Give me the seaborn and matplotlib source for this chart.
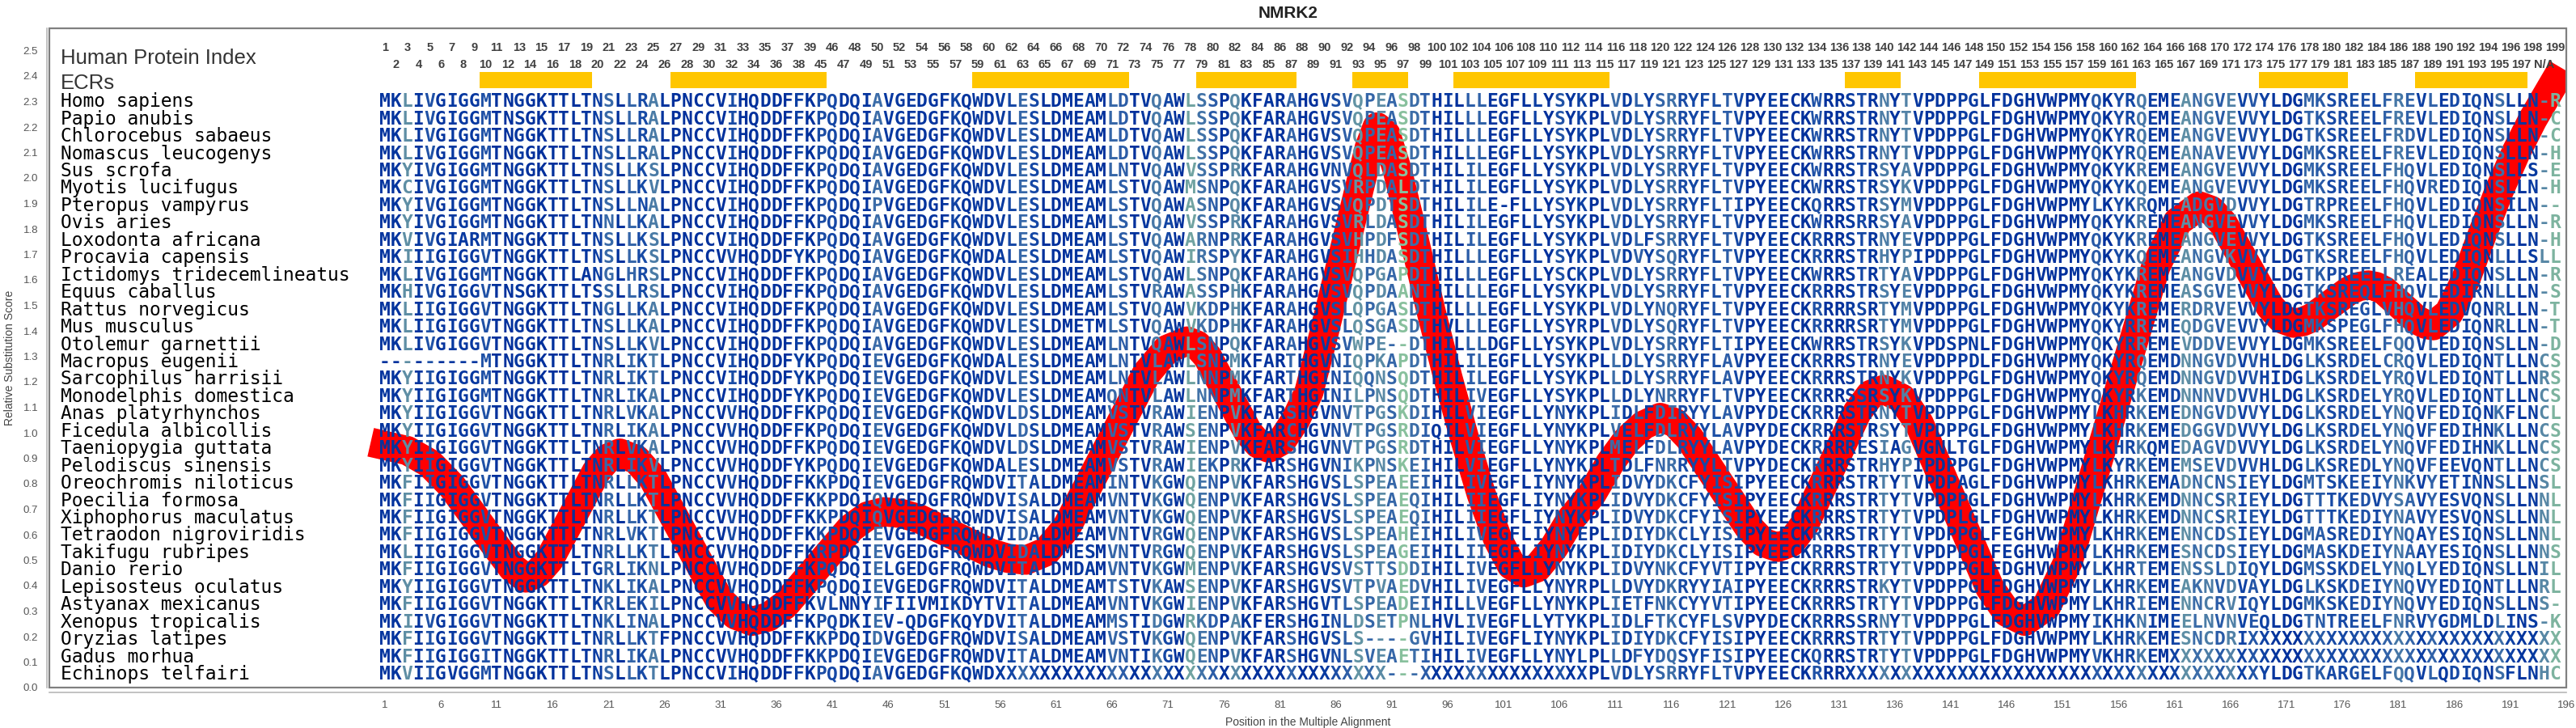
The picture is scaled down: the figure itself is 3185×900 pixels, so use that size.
import numpy as np
import matplotlib.pyplot as plt
import seaborn as sns
from collections import Counter
from matplotlib import font_manager
from matplotlib.colors import LinearSegmentedColormap
from matplotlib.patches import Rectangle

# ── Data ───────────────────────────────────────────────────────────────────────
species = [
    'Homo sapiens', 'Papio anubis', 'Chlorocebus sabaeus', 'Nomascus leucogenys',
    'Sus scrofa', 'Myotis lucifugus', 'Pteropus vampyrus', 'Ovis aries',
    'Loxodonta africana', 'Procavia capensis', 'Ictidomys tridecemlineatus',
    'Equus caballus', 'Rattus norvegicus', 'Mus musculus', 'Otolemur garnettii',
    'Macropus eugenii', 'Sarcophilus harrisii', 'Monodelphis domestica',
    'Anas platyrhynchos', 'Ficedula albicollis', 'Taeniopygia guttata',
    'Pelodiscus sinensis', 'Oreochromis niloticus', 'Poecilia formosa',
    'Xiphophorus maculatus', 'Tetraodon nigroviridis', 'Takifugu rubripes',
    'Danio rerio', 'Lepisosteus oculatus', 'Astyanax mexicanus',
    'Xenopus tropicalis', 'Oryzias latipes', 'Gadus morhua', 'Echinops telfairi',
]

# alignment columns 1-65
seq_a = [
    'MKLIVGIGGMTNGGKTTLTNSLLRALPNCCVIHQDDFFKPQDQIAVGEDGFKQWDVLESLDMEAM',
    'MKLIVGIGGMTNSGKTTLTNSLLRALPNCCVIHQDDFFKPQDQIAVGEDGFKQWDVLESLDMEAM',
    'MKLIVGIGGMTNGGKTTLTNSLLRALPNCCVIHQDDFFKPQDQIAVGEDGFKQWDVLESLDMEAM',
    'MKLIVGIGGMTNGGKTTLTNSLLRALPNCCVIHQDDFFKPQDQIAVGEDGFKQWDVLESLDMEAM',
    'MKYIVGIGGMTNGGKTTLTNSLLKSLPNCCVIHQDDFFKPQDQIAVGEDGFKQWDVLESLDMEAM',
    'MKCIVGIGGMTNGGKTTLTNSLLKVLPNCCVIHQDDFFKPQDQIAVGEDGFKQWDVLESLDMEAM',
    'MKYIVGIGGMTNGGKTTLTNSLLNALPNCCVIHQDDFFKPQDQIPVGEDGFKQWDVLESLDMEAM',
    'MKYIVGIGGMTNGGKTTLTNNLLKALPNCCVIHQDDFFKPQDQIAVGEDGFKQWDVLESLDMEAM',
    'MKVIVGIARMTNGGKTTLTNSLLKSLPNCCVIHQDDFFKPQDQIAVGEDGFKQWDVLESLDMEAM',
    'MKIIIGIGGVTNGGKTTLTNSLLKSLPNCCVVHQDDFYKPQDQIAVGEDGFKQWDALESLDMEAM',
    'MKLIVGIGGMTNGGKTTLANGLHRSLPNCCVIHQDDFFKPQDQIAVGEDGFKQWDVLESLDMEAM',
    'MKHIVGIGGVTNSGKTTLTSSLLRSLPNCCVIHQDDFFKPQDQIAVGEDGFKQWDVLESLDMEAM',
    'MKLIIGIGGVTNGGKTTLTNGLLKALPNCCVIHQDDFFKPQDQIAVGEDGFKQWDVLESLDMEAM',
    'MKLIIGIGGVTNGGKTTLTNSLLKALPNCCVIHQDDFFKPQDQIAVGEDGFKQWDVLESLDMETM',
    'MKLIVGIGGVTNGGKTTLTNSLLKVLPNCCVIHQDDFFKPQDQIAVGEDGFKQWDVLESLDMEAM',
    '---------MTNGGKTTLTNRLIKTLPNCCVIHQDDFYKPQDQIEVGEDGFKQWDALESLDMEAM',
    'MKYIIGIGGMTNGGKTTLTNRLIKTLPNCCVIHQDDFYKPQDQIEVGEDGFKQWDVLESLDMEAM',
    'MKYIIGIGGMTNGGKTTLTNRLIKALPNCCVIHQDDFYKPQDQIEVGEDGFKQWDVLESLDMEAM',
    'MKYIIGIGGVTNGGKTTLTNRLVKALPNCCVVHQDDFFKPQDQIEVGEDGFKQWDVLDSLDMEAM',
    'MKYIIGIGGVTNGGKTTLTNRLIKALPNCCVVHQDDFFKPQDQIEVGEDGFKQWDVLDSLDMEAM',
    'MKYIIGIGGVTNGGKTTLTNRLVKALPNCCVVHQDDFFKPQDQIEVGEDGFKQWDVLDSLDMEAM',
    'MKYIIGIGGVTNGGKTTLTNRLIKVLPNCCVVHQDDFYKPQDQIEVGEDGFKQWDALESLDMEAM',
    'MKFIIGIGGVTNGGKTTLTNRLLKTLPNCCVVHQDDFFKKPDQIEVGEDGFRQWDVITALDMEAM',
    'MKFIIGIGGVTNGGKTTLTNRLLKTLPNCCVVHQDDFFKKPDQIQVGEDGFRQWDVISALDMEAM',
    'MKFIIGIGGVTNGGKTTLTNRLLKTLPNCCVVHQDDFFKKPDQIQVGEDGFRQWDVISALDMEAM',
    'MKFIIGIGGVTNGGKTTLTNRLVKTLPNCCVVHQDDFFKKPDQIEVGEDGFRQWDVIDALDMEAM',
    'MKLIIGIGGVTNGGKTTLTNRLLKTLPNCCVVHQDDFFKRPDQIEVGEDGFRQWDVIDALDMESM',
    'MKFIIGIGGVTNGGKTTLTGRLIKNLPNCCVVHQDDFFKPQDQIELGEDGFRQWDVITALDMDAM',
    'MKYIIGIGGVTNGGKTTLTNKLIKALPNCCVVHQDDFFKPQDQIEVGEDGFRQWDVITALDMEAM',
    'MKFIIGIGGVTNGGKTTLTKRLEKILPNCCVVHQDDFFKVLNNYIFIIVMIKDYTVITALDMEAM',
    'MKIIVGIGGVTNGGKTTLTNKLINALPNCCVVHQDDFFKPQDKIEV-QDGFKQYDVITALDMEAM',
    'MKFIIGIGGVTNGGKTTLTNRLLKTFPNCCVVHQDDFFKKPDQIDVGEDGFRQWDVISALDMEAM',
    'MKFIIGIGGITNGGKTTLTNRLIKALPNCCVVHQDDFFKKPDQIEVGEDGFRQWDVITALDMEAM',
    'MKVIIGVGGMTNGGKTTLTNSLLKTLPNCCVIHQDDFFKPQDQIAVGEDGFKQWD' + 'X' * 10,
]

# alignment columns 65-130
seq_b = [
    'MLDTVQAWLSSPQKFARAHGVSVQPEASDTHILLLEGFLLYSYKPLVDLYSRRYFLTVPYEECKWR',
    'MLDTVQAWLSSPQKFARAHGVSVQPEASDTHILLLEGFLLYSYKPLVDLYSRRYFLTVPYEECKWR',
    'MLDTVQAWLSSPQKFARAHGVSVQPEASDTHILLLEGFLLYSYKPLVDLYSRRYFLTVPYEECKWR',
    'MLDTVQAWLSSPQKFARAHGVSVQPEASDTHILLLEGFLLYSYKPLVDLYSRRYFLTVPYEECKWR',
    'MLNTVQAWVSSPRKFARAHGVNVQLDASDTHILILEGFLLYSYKPLVDLYSRRYFLTVPYEECKWR',
    'MLSTVQAWMSNPQKFARAHGVSVRPDALDTHILILEGFLLYSYKPLVDLYSRRYFLTVPYEECKWR',
    'MLSTVQAWASNPQKFARAHGVSVQPDTSDTHILILE-FLLYSYKPLVDLYSRRYFLTIPYEECKQR',
    'MLSTVQAWVSSPRKFARAHGVSVRLDASDTHILILEGFLLYSYKPLVDLYSRRYFLTVPYEECKWR',
    'MLSTVQAWARNPRKFARAHGVSVHPDFSDTHILILEGFLLYSYKPLVDLFSRRYFLTVPYEECKRR',
    'MLSTVQAWIRSPYKFARAHGVSIHHDASDTHILLLEGFLLYSYKPLVDVYSQRYFLTVPYEECKRR',
    'MLSTVQAWLSNPQKFARAHGVSVQPGAPDTHILLLEGFLLYSCKPLVDLYSRRYFLTVPYEECKWR',
    'MLSTVRAWASSPHKFARAHGVSVQPDAANTHILLLEGFLLYSYKPLVDLYSRRYFLTVPYEECKRR',
    'MLSTVQAWVKDPHKFARAHGVSLQPGASDTHILLLEGFLLYSYKPLVDLYNQRYFLTVPYEECKRR',
    'MLSTVQAWVKDPHKFARAHGVSLQSGASDTHVLLLEGFLLYSYRPLVDLYSQRYFLTVPYEECKRR',
    'MLNTVQAWLSNPQKFARAHGVSVWPE--DTHILLLDGFLLYSYKPLVDLYSRRYFLTIPYEECKWR',
    'MLNTVLAWLSNPMKFARTHGVNIQPKAPDTHILILEGFLLYSYKPLLDLYSRRYFLAVPYEECKRR',
    'MLNTVLAWLNNPMKFARTHGINIQQNSQDTHILILEGFLLYSYKPLLDLYSRRYFLAVPYEECKRR',
    'MQNTVLAWLNNPMKFARTHGINILPNSQDTHILIVEGFLLYSYKPLLDLYNRRYFLTVPYEECKRR',
    'MVSTVRAWIENPVKFARSHGVNVTPGSKDIHILVIEGFLLYNYKPLIDLFDIRYYLAVPYDECKRR',
    'MVSTVRAWSENPVKFARCHGVNVTPGSRDIQILVIEGFLLYNYKPLVELFDLRYYLAVPYDECKRR',
    'MVSTVRAWIENPVKFARSHGVNVTPGSRDTHILVIEGFLLYNYKPLMELFDLRYYLAVPYDECKRR',
    'MVSTVRAWIEKPRKFARSHGVNIKPNSKEIHILVIEGFLLYNYKPLTDLFNRRYYLTVPYDECKRR',
    'MINTVKGWQENPVKFARSHGVSLSPEAEEIHILIVEGFLIYNYKPLIDVYDKCFYISIPYEECKRR',
    'MVNTVKGWQENPVKFARSHGVSLSPEAEQIHILIIEGFLIYNYKPLIDVYDKCFYISIPYEECKRR',
    'MVNTVKGWQENPVKFARSHGVSLSPEAEQIHILIIEGFLIYNYKPLIDVYDKCFYISIPYEECKRR',
    'MVNTVRGWQENPVKFARSHGVSLSPEAHEIHILIVEGFLIYNYEPLIDIYDKCLYISIPYEECKRR',
    'MVNTVRGWQENPVKFARSHGVSLSPEAGEIHILIIEGFLIYNYKPLIDIYDKCLYISIPYEECKRR',
    'MVNTVKGWMENPVKFARSHGVSVSTTSDDIHILIVEGFLLYNYKPLIDVYNKCFYVTIPYEECKRR',
    'MTSTVKAWSENPVKFARSHGVSVTPVAEDVHILIVEGFLLYNYRPLLDVYDKRYYIAIPYEECKRR',
    'MVNTVKGWIENPVKFARSHGVTLSPEADEIHILLVEGFLLYNYKPLIETFNKCYYVTIPYEECKRR',
    'MMSTIDGWRKDPAKFERSHGINLDSETPNLHVLIVEGFLLYTYKPLIDLFTKCYFLSVPYDECKRR',
    'MVSTVKGWQENPVKFARSHGVSLS----GVHILIVEGFLIYNYKPLIDIYDKCFYISIPYEECKRR',
    'MVNTIKGWQENPVKFARSHGVNLSVEAETIHILIVEGFLLYNYLPLLDFYDQSYFISIPYEECKQR',
    'X' * 26 + '---' + 'X' * 15 + 'PLVDLYSRRYFLTVPYEECKRR',
]

# alignment columns 130-195
seq_c = [
    'RRSTRNYTVPDPPGLFDGHVWPMYQKYRQEMEANGVEVVYLDGMKSREELFREVLEDIQNSLLN-R',
    'RRSTRNYTVPDPPGLFDGHVWPMYQKYRQEMEANGVEVVYLDGTKSREELFREVLEDIQNSLLN-C',
    'RRSTRNYTVPDPPGLFDGHVWPMYQKYRQEMEANGVEVVYLDGTKSREELFRDVLEDIQNSLLN-C',
    'RRSTRNYTVPDPPGLFDGHVWPMYQKYRQEMEANAVEVVYLDGMKSREELFREVLEDIQNSLLN-H',
    'RRSTRSYAVPDPPGLFDGHVWPMYQKYKREMEANGVEVVYLDGMKSREELFHQVLEDIQNSLLS-E',
    'RRSTRSYKVPDPPGLFDGHVWPMYQKYKQEMEANGVEVVYLDGMKSREELFHQVREDIQNSLLN-H',
    'RRSTRSYMVPDPPGLFDGHVWPMYLKYKRQMEADGVDVVYLDGTRPREELFHQVLEDIQNSILN--',
    'RRSRRSYAVPDPPGLFDGHVWPMYQKYKREMEANGVEVVYLDGMKSREELFHQVLEDIQNSLLN-R',
    'RRSTRNYEVPDPPGLFDGHVWPMYQKYKREMEANGVEVVYLDGTKSREELFHQVLEDIQNSLLN-H',
    'RRSTRHYPIPDPPGLFDGHVWPMYQKYKQEMEANGVKVVYLDGTKSREELFHQVLEDIQNLLLSLL',
    'RRSTRTYAVPDPPGLFDGHVWPMYQKYKREMEANGVDVVYLDGTKPREELLREALEDIQNSLLN-R',
    'RRSTRSYEVPDPPGLFDGHVWPMYQKYKREMEASGVEVVYLDGTKSREQLFHQVLEDIRNLLLN-S',
    'RRRSRTYMVPDPPGLFDGHVWPMYQKYKREMERDRVEVVYLDGTKSREGLVHQVLEDVQNRLLN-T',
    'RRRSRTYMVPDPPGLFDGHVWPMYQKYRREMEQDGVEVVYLDGMKSPEGLFHQVLEDIQNRLLN-T',
    'RRSTRSYKVPDSPNLFDGHVWPMYQKYRREMEVDDVEVVYLDGMKSREELFQQVLEDIQNSLLN-D',
    'RRSTRNYEVPDPPDLFDGHVWPMYQKYRQEMDNNGVDVVHLDGLKSRDELCRQVLEDIQNTLLNCS',
    'RRSTRNYKVPDPPGLFDGHVWPMYQKYRQEMDNNGVDVVHIDGLKSRDELYRQVLEDIQNTLLNRS',
    'RRSSRSYKVPDPPGLFDGHVWPMYQKYRKEMDNNNVDVVHLDGLKSRDELYRQVLEDIQNTLLNCS',
    'RRSTRNYTVPDPPGLFDGHVWPMYLKHRKEMEDNGVDVVYLDGLKSRDELYNQVFEDIQNKFLNCL',
    'RRSTRSYTVPDPPGLFDGHVWPMYLKHRKEMEDGGVDVVYLDGLKSRDELYNQVFEDIHNKLLNCS',
    'RRRESIAGVGNLTGLFDGHVWPMYLKHRKQMEDAGVDVVYLDGLKSRDELYNQVFEDIHNKLLNCS',
    'RRSTRHYPIPDPPGLFDGHVWPMYLKYRKEMEMSEVDVVHLDGLKSREDLYNQVFEEVQNTLLNCS',
    'RRSTRTYTVPDPAGLFDGHVWPMYLKHRKEMADNCNSIEYLDGMTSKEEIYNKVYETINNSLLNSL',
    'RRSTRTYTVPDPPGLFDGHVWPMYLKHRKEMDNNCSRIEYLDGTTTKEDVYSAVYESVQNSLLNNL',
    'RRSTRTYTVPDPLGLFDGHVWPMYLKHRKEMDNNCSRIEYLDGTTTKEDIYNAVYESVQNSLLNNL',
    'RRSTRTYTVPDPPGLFEGHVWPMYLKHRKEMENNCDSIEYLDGMASREDIYNQAYESIQNSLLNNL',
    'RRSTRTYTVPDPPGLFEGHVWPMYLKHRKEMESNCDSIEYLDGMASKDEIYNAAYESIQNSLLNNS',
    'RRSTRTYTVPDPPGLFDGHVWPMYLKHRTEMENSSLDIQYLDGMSSKDELYNQLYEDIQNSLLNIL',
    'RRSTRKYTVPDPPGLFDGHVWPMYLKHRKEMEAKNVDVAYLDGLKSKDEIYNQVYEDIQNTLLNRL',
    'RRSTRTYTVPDPPGLFDGHVWPMYLKHRIEMENNCRVIQYLDGMKSKEDIYNQVYEDIQNSLLNS-',
    'RRSSRNYTVPDPPGLFDGHVWPMYIKHKNIMEELNVNVEQLDGTNTREELFNRVYGDMLDLINS-K',
    'RRSTRTYTVPDPPGLFDGHVWPMYLKHRKEMESNCDRI' + 'X' * 28,
    'RRSTRTYTVPDPPGLFDGHVWPMYVKHRKEM' + 'X' * 35,
    'RR' + 'X' * 37 + 'YLDGTKARGELFQQVLQDIQNSFLNHC',
]

# human residue number above each alignment column
human_index = ([str(i) for i in range(1, 40)] + [str(i) for i in range(45, 199)]
               + ['N/A', '199'])

# evolutionarily conserved regions (alignment columns, inclusive)
ecr_start = [10, 27, 54, 74, 88, 97, 132, 144, 169, 183]
ecr_end = [19, 40, 67, 82, 92, 110, 136, 157, 176, 192]

# relative substitution score along the alignment
curve_pos = [1, 3, 5, 7, 9, 11, 12.4, 13.6,
             14.65, 15.7, 17.8, 19.9, 20.95, 22.0,
             23.48, 24.95, 27.9, 30.85, 32.33, 33.8,
             35.28, 36.75, 39.7, 42.65, 44.13, 45.6,
             47.19, 48.78, 51.95, 55.13, 56.71, 58.3,
             60.1, 61.9, 65.5, 69.1, 70.9, 72.7,
             73.61, 74.53, 76.35, 78.18, 79.09, 80.0,
             81.2, 82.4, 83.6, 85.0, 86.5, 88.0, 89.0, 89.7,
             90.5, 91.5, 93.0, 94.5, 96.0, 97.5, 99.0, 100.5, 101.7, 102.8,
             104.0, 105.5, 107.0, 108.9, 110.5, 112.0, 113.5, 115.0,
             116.3, 117.6, 120.25, 122.9, 124.2, 125.5,
             126.7, 127.9, 130.25, 132.6, 133.8, 135.0,
             136.6, 138.15, 141.3, 144.45, 146.0, 147.6,
             149.55, 151.5, 155.4, 159.3, 161.25, 163.2,
             164.25, 165.3, 167.4, 169.5, 170.55, 171.6,
             172.44, 173.28, 174.95, 176.6, 177.46, 178.3,
             179.0, 179.75, 181.2, 182.65, 183.4, 184.1,
             185.5, 187.0, 188.5, 190.0, 191.5, 193.0, 195.0]
curve_val = [0.95, 0.93, 0.88, 0.79, 0.67, 0.55, 0.47, 0.43,
             0.449, 0.502, 0.675, 0.848, 0.901, 0.92,
             0.895, 0.822, 0.585, 0.348, 0.285, 0.26,
             0.277, 0.324, 0.475, 0.626, 0.673, 0.69,
             0.683, 0.662, 0.595, 0.528, 0.507, 0.50,
             0.533, 0.626, 0.93, 1.234, 1.327, 1.36,
             1.344, 1.299, 1.15, 1.001, 0.956, 0.94,
             0.97, 1.05, 1.16, 1.40, 1.67, 1.94, 2.12, 2.20,
             2.17, 2.03, 1.76, 1.48, 1.22, 0.98, 0.76, 0.58, 0.48, 0.45,
             0.47, 0.55, 0.66, 0.76, 0.88, 0.97, 1.03, 1.06,
             1.04, 0.98, 0.805, 0.63, 0.57, 0.55,
             0.57, 0.64, 0.86, 1.08, 1.15, 1.17,
             1.135, 1.037, 0.715, 0.393, 0.295, 0.26,
             0.32, 0.498, 1.075, 1.652, 1.828, 1.89,
             1.873, 1.823, 1.66, 1.497, 1.447, 1.43,
             1.436, 1.452, 1.505, 1.558, 1.574, 1.58,
             1.574, 1.557, 1.50, 1.443, 1.426, 1.42,
             1.47, 1.60, 1.78, 1.95, 2.10, 2.23, 2.38]

# ── Assemble alignment ─────────────────────────────────────────────────────────
seqs = [a + b[1:] + c[1:] for a, b, c in zip(seq_a, seq_b, seq_c)]
bad = [(species[i], len(s)) for i, s in enumerate(seqs) if len(s) != 195]
if bad:
    raise ValueError(f'bad lengths: {bad}')
n_cols = 195

# per-column conservation -> colour
def col_entropy(chars):
    chars = [ch for ch in chars if ch != 'X']
    cnt = Counter(chars)
    p = np.array(list(cnt.values()), dtype=float) / len(chars)
    return -(p * np.log2(p)).sum()

entropy = np.array([col_entropy([s[c] for s in seqs]) for c in range(n_cols)])
cmap = LinearSegmentedColormap.from_list(
    'cons', ['#00309c', '#0f42a4', '#3566a8', '#5b8ba5', '#8ec69c'])
col_colors = [cmap(min(h / 3.2, 1.0)) for h in entropy]

# ── Plot ───────────────────────────────────────────────────────────────────────
sns.set_style('white')
plt.rcParams['font.family'] = ['Liberation Sans', 'DejaVu Sans']

installed = {f.name for f in font_manager.fontManager.ttflist}
if 'Liberation Sans Narrow' in installed:
    idx_font, idx_size = 'Liberation Sans Narrow', 12
else:
    idx_font, idx_size = 'Liberation Sans', 10.5

W, H = 3185, 900
fig = plt.figure(figsize=(W / 100, H / 100), dpi=100)
ax = fig.add_axes([61 / W, 50 / H, (3173 - 61) / W, (850 - 35) / H])
ax.set_xlim(-29, 196)
ax.set_ylim(0, 815 / 315)

# substitution score curve
sns.lineplot(x=curve_pos, y=curve_val, ax=ax, color='#ff0000', linewidth=26,
             sort=False, solid_capstyle='projecting', solid_joinstyle='round',
             zorder=2)

# ECR bars
ax.bar([s - 0.5 for s in ecr_start],
       [0.064] * len(ecr_start),
       width=[e - s + 1 for s, e in zip(ecr_start, ecr_end)],
       bottom=2.352, align='edge', color='#ffc600', zorder=1, linewidth=0)

# human protein index numbers
for c, lab in enumerate(human_index, start=1):
    ax.text(c, 2.511 if c % 2 else 2.444, lab, ha='center', va='center',
            fontsize=idx_size, fontweight='bold', family=idx_font,
            color='#404040')

ax.text(-28.0, 2.47, 'Human Protein Index', ha='left', va='center',
        fontsize=18.5, family='Liberation Sans', color='#333333')
ax.text(-28.0, 2.371, 'ECRs', ha='left', va='center',
        fontsize=18.5, family='Liberation Sans', color='#333333')

# species names and sequences
row_step = 21.45 / 315
cap_off = 8.3 / 315
for i, (name, s) in enumerate(zip(species, seqs)):
    y = 2.305 - i * row_step - cap_off
    ax.text(-28.0, y, name, ha='left', va='baseline', fontsize=16.5,
            family='DejaVu Sans Mono', color='black', zorder=3)
    for c, ch in enumerate(s, start=1):
        ax.text(c, y, ch, ha='center', va='baseline', fontsize=16.5,
                family='DejaVu Sans Mono', fontweight='bold',
                color=col_colors[c - 1], zorder=3)

# frame and axes
ax.add_patch(Rectangle((0, 0), 1, 1, transform=ax.transAxes, fill=False,
                       edgecolor='#808080', linewidth=1.6, zorder=5,
                       clip_on=False))
for side in ['top', 'right']:
    ax.spines[side].set_visible(False)
ax.spines['left'].set_position(('outward', 2.5))
ax.spines['bottom'].set_position(('outward', 4))
for side in ['left', 'bottom']:
    ax.spines[side].set_color('#b8b8b8')
    ax.spines[side].set_linewidth(1.2)

xt = np.arange(-29, 197, 5)
ax.set_xticks(xt)
ax.set_xticklabels([str(t) if t >= 1 else '' for t in xt])
yt = np.round(np.arange(0, 2.55, 0.1), 1)
ax.set_yticks(yt)
ax.set_yticklabels([f'{v:.1f}' for v in yt])
ax.tick_params(axis='both', direction='out', length=4, width=1,
               color='#b8b8b8', labelsize=9.5, labelcolor='#555555')

ax.set_xlabel('Position in the Multiple Alignment', fontsize=10,
              color='#444444', labelpad=6)
ax.set_ylabel('Relative Substitution Score', fontsize=10, color='#444444')
ax.yaxis.set_label_coords(-0.0135, 0.5)

fig.text(0.5, 1 - 16 / H, 'NMRK2', ha='center', va='center', fontsize=15,
         fontweight='bold', color='#222222')

fig.savefig('out.png', dpi=100)
